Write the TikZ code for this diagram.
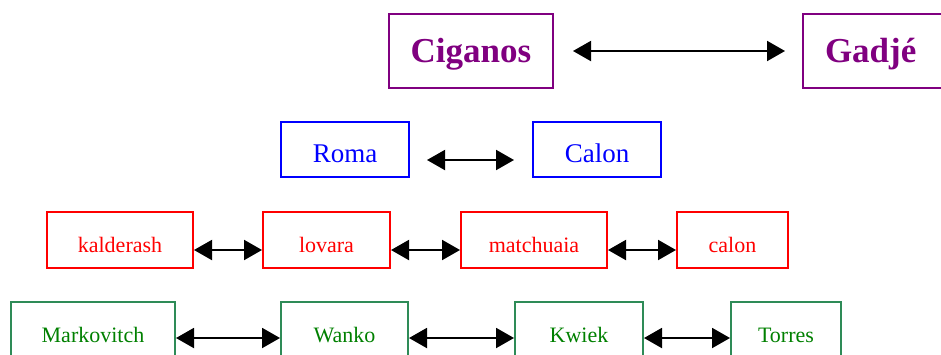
\documentclass[tikz,border=0pt]{standalone}
\usepackage{fontspec}
\setmainfont{Liberation Serif}
\usetikzlibrary{arrows.meta, positioning}
\definecolor{tribepurple}{RGB}{128,0,128}
\definecolor{boxgreen}{RGB}{46,139,87}
\definecolor{txtgreen}{RGB}{0,128,0}

\begin{document}
\begin{tikzpicture}
  [
    x=1pt, y=-1pt,
    Box/.style={rectangle, line width=2pt, inner sep=0pt, text depth=0pt},
    Purple/.style={Box, draw=tribepurple, text=tribepurple, font=\fontsize{35}{40}\selectfont\bfseries, minimum height=74pt, text height=22pt},
    Blue/.style={Box, draw=blue, text=blue, font=\fontsize{27}{32}\selectfont, minimum height=55pt, text height=25pt},
    Red/.style={Box, draw=red, text=red, font=\fontsize{22}{26}\selectfont, minimum height=56pt, text height=24pt},
    Green/.style={Box, draw=boxgreen, text=txtgreen, font=\fontsize{22}{26}\selectfont, minimum height=56pt, text height=24pt},
    Link/.style={{Triangle[length=18pt, width=20pt]}-{Triangle[length=18pt, width=20pt]}, line width=2pt}
  ]
  \useasboundingbox (0, 0) rectangle (941, 354);
  % Nodes
  \node[Purple, minimum width=164pt] (cig) at(471, 51) {Ciganos};
  \node[Purple, text width=120pt, align=left, inner xsep=22pt] (gad) at(885, 51) {Gadjé};
  \node[Blue, minimum width=128pt] (roma) at(345, 149.5) {Roma};
  \node[Blue, minimum width=128pt] (calb) at(597, 149.5) {Calon};
  \node[Red, minimum width=146pt] (kal) at(120, 240) {kalderash};
  \node[Red, minimum width=127pt] (lov) at(326.5, 240) {lovara};
  \node[Red, minimum width=146pt] (mat) at(534, 240) {matchuaia};
  \node[Red, minimum width=111pt] (cal) at(732.5, 240) {calon};
  \node[Green, minimum width=164pt] (mark) at(93, 330) {Markovitch};
  \node[Green, minimum width=127pt] (wan) at(344.5, 330) {Wanko};
  \node[Green, minimum width=128pt] (kwi) at(579, 330) {Kwiek};
  \node[Green, minimum width=110pt] (tor) at(786, 330) {Torres};
  % Lines
  \draw[Link, shorten <=19pt, shorten >=17pt] (cig) -- (gad);
  \draw[Link, shorten <=17pt, shorten >=18pt] ([yshift=-10.5pt]roma.east) -- ([yshift=-10.5pt]calb.west);
  \draw[Link] ([yshift=-10pt]kal.east) -- ([yshift=-10pt]lov.west);
  \draw[Link] ([yshift=-10pt]lov.east) -- ([yshift=-10pt]mat.west);
  \draw[Link] ([yshift=-10pt]mat.east) -- ([yshift=-10pt]cal.west);
  \draw[Link] ([yshift=-8pt]mark.east) -- ([yshift=-8pt]wan.west);
  \draw[Link] ([yshift=-8pt]wan.east) -- ([yshift=-8pt]kwi.west);
  \draw[Link] ([yshift=-8pt]kwi.east) -- ([yshift=-8pt]tor.west);
\end{tikzpicture}
\end{document}
